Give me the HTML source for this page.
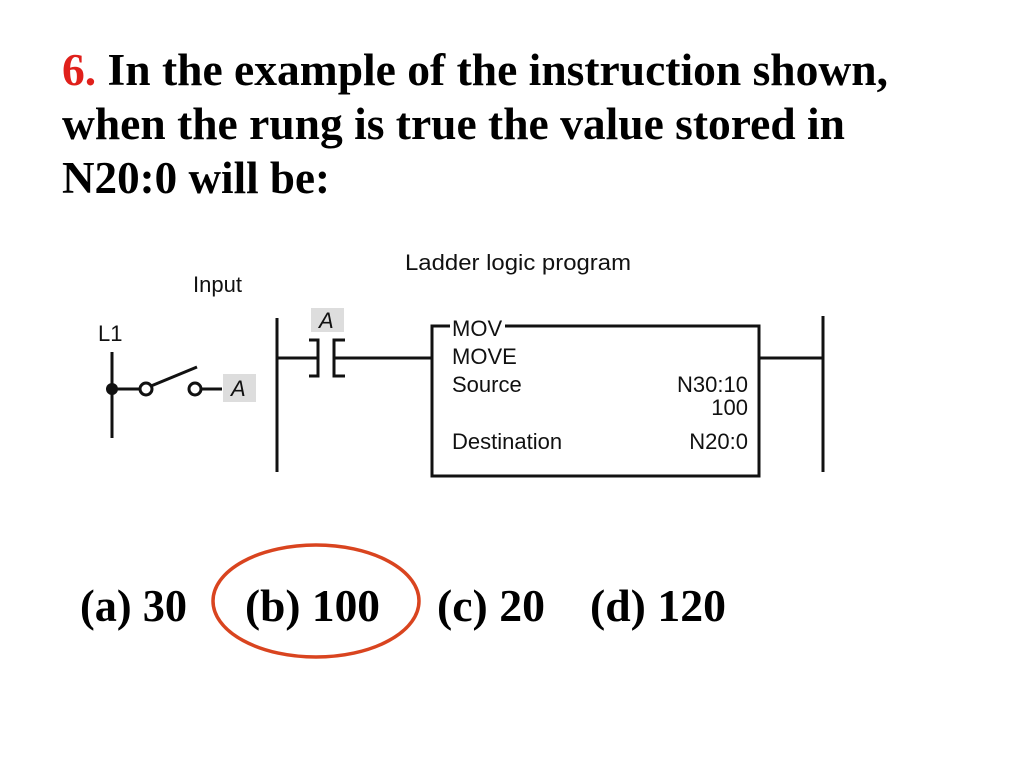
<!DOCTYPE html>
<html><head><meta charset="utf-8"><style>
html,body{margin:0;padding:0;background:#fff;width:1024px;height:768px;overflow:hidden}
</style></head><body>
<svg width="1024" height="768" viewBox="0 0 1024 768" xmlns="http://www.w3.org/2000/svg">
<g font-family="Liberation Serif, serif" font-weight="bold" font-size="45" fill="#000">
<text x="62" y="85" textLength="826" lengthAdjust="spacingAndGlyphs"><tspan fill="#e0201b">6.</tspan> In the example of the instruction shown,</text>
<text x="62" y="139" textLength="783" lengthAdjust="spacingAndGlyphs">when the rung is true the value stored in</text>
<text x="62" y="193" textLength="268" lengthAdjust="spacingAndGlyphs">N20:0 will be:</text>
<text x="80" y="621" textLength="107" lengthAdjust="spacingAndGlyphs">(a) 30</text>
<text x="245" y="621" textLength="135" lengthAdjust="spacingAndGlyphs">(b) 100</text>
<text x="437" y="621" textLength="108" lengthAdjust="spacingAndGlyphs">(c) 20</text>
<text x="590" y="621" textLength="136" lengthAdjust="spacingAndGlyphs">(d) 120</text>
</g>
<ellipse cx="316" cy="601" rx="103" ry="56" fill="none" stroke="#d9441f" stroke-width="3.5"/>
<g font-family="Liberation Sans, sans-serif" font-size="22" fill="#111">
<text x="405" y="270" textLength="226" lengthAdjust="spacingAndGlyphs">Ladder logic program</text>
<text x="193" y="292">Input</text>
<text x="98" y="341">L1</text>
</g>
<g stroke="#111" stroke-width="3" fill="none">
<line x1="112" y1="352" x2="112" y2="438"/>
<line x1="112" y1="389" x2="140" y2="389"/>
<circle cx="146" cy="389" r="6" fill="#fff"/>
<line x1="151" y1="386" x2="197" y2="367"/>
<circle cx="195" cy="389" r="6" fill="#fff"/>
<line x1="201" y1="389" x2="222" y2="389"/>
<line x1="277" y1="318" x2="277" y2="472"/>
<line x1="277" y1="358" x2="318" y2="358"/>
<polyline points="309,340 318,340 318,376 309,376"/>
<polyline points="345,340 334,340 334,376 345,376"/>
<line x1="334" y1="358" x2="432" y2="358"/>
<polyline points="450,326 432,326 432,476 759,476 759,326 505,326"/>
<line x1="759" y1="358" x2="823" y2="358"/>
<line x1="823" y1="316" x2="823" y2="472"/>
</g>
<circle cx="112" cy="389" r="6" fill="#111"/>
<rect x="223" y="374" width="33" height="28" fill="#ddd"/>
<rect x="311" y="308" width="33" height="24" fill="#ddd"/>
<g font-family="Liberation Sans, sans-serif" font-size="22" fill="#111">
<text x="231" y="396" font-style="italic">A</text>
<text x="319" y="328" font-style="italic">A</text>
<text x="452" y="336">MOV</text>
<text x="452" y="364">MOVE</text>
<text x="452" y="392">Source</text>
<text x="452" y="449">Destination</text>
<text x="748" y="392" text-anchor="end">N30:10</text>
<text x="748" y="415" text-anchor="end">100</text>
<text x="748" y="449" text-anchor="end">N20:0</text>
</g>
</svg>
</body></html>
